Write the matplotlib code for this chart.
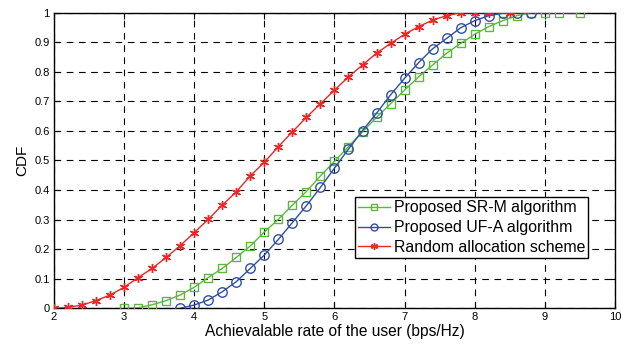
import matplotlib
matplotlib.use("Agg")
import matplotlib.pyplot as plt

plt.rcParams['font.family'] = ['Liberation Sans', 'DejaVu Sans']

x_srm = [3.0, 3.2, 3.4, 3.6, 3.8, 4.0, 4.2, 4.4, 4.6, 4.8, 5.0, 5.2, 5.4, 5.6, 5.8, 6.0,
         6.2, 6.4, 6.6, 6.8, 7.0, 7.2, 7.4, 7.6, 7.8, 8.0, 8.2, 8.4, 8.6, 8.8, 9.0, 9.2, 9.5]
y_srm = [0.0, 0.002, 0.012, 0.026, 0.045, 0.071, 0.104, 0.135, 0.172, 0.211, 0.258, 0.301,
         0.349, 0.395, 0.448, 0.497, 0.547, 0.597, 0.646, 0.692, 0.738, 0.783, 0.823, 0.863,
         0.896, 0.927, 0.953, 0.973, 0.99, 1.0, 1.0, 1.0, 1.0]

x_ufa = [3.8, 4.0, 4.2, 4.4, 4.6, 4.8, 5.0, 5.2, 5.4, 5.6, 5.8, 6.0, 6.2, 6.4, 6.6, 6.8,
         7.0, 7.2, 7.4, 7.6, 7.8, 8.0, 8.2, 8.4, 8.6, 8.8]
y_ufa = [0.0, 0.011, 0.028, 0.056, 0.09, 0.135, 0.18, 0.233, 0.29, 0.347, 0.409, 0.474,
         0.539, 0.601, 0.66, 0.722, 0.778, 0.831, 0.878, 0.913, 0.949, 0.973, 0.99, 0.998,
         1.0, 1.0]

x_rand = [2.0, 2.2, 2.4, 2.6, 2.8, 3.0, 3.2, 3.4, 3.6, 3.8, 4.0, 4.2, 4.4, 4.6, 4.8, 5.0,
          5.2, 5.4, 5.6, 5.8, 6.0, 6.2, 6.4, 6.6, 6.8, 7.0, 7.2, 7.4, 7.6, 7.8, 8.0, 8.2, 8.5]
y_rand = [0.0, 0.003, 0.011, 0.026, 0.045, 0.071, 0.104, 0.135, 0.172, 0.212, 0.256, 0.301,
          0.349, 0.394, 0.448, 0.494, 0.547, 0.597, 0.646, 0.692, 0.738, 0.783, 0.823, 0.863,
          0.896, 0.927, 0.953, 0.975, 0.99, 1.0, 1.0, 1.0, 1.0]

labels = ['Proposed SR-M algorithm', 'Proposed UF-A algorithm', 'Random allocation scheme']
x_ticks = [2, 3, 4, 5, 6, 7, 8, 9, 10]
y_ticks = [0, 0.1, 0.2, 0.3, 0.4, 0.5, 0.6, 0.7, 0.8, 0.9, 1]
y_tick_labels = ['0', '0.1', '0.2', '0.3', '0.4', '0.5', '0.6', '0.7', '0.8', '0.9', '1']

fig = plt.figure(figsize=(6.24, 3.45), dpi=100)
ax = fig.add_axes([0.0865, 0.1064, 0.899, 0.8568])

green = '#5cb83c'
blue = '#2f4fa0'
red = '#ee2525'

ax.plot(x_srm, y_srm, color=green, lw=1.0, marker='s', ms=6, mfc='none', mec=green, mew=1.0,
        label=labels[0], zorder=3)
ax.plot(x_ufa, y_ufa, color=blue, lw=1.0, marker='o', ms=6.8, mfc='none', mec=blue, mew=1.0,
        label=labels[1], zorder=4)
ax.plot(x_rand, y_rand, color=red, lw=1.0, marker=(6, 2, 0), ms=6.5, mec=red, mew=1.0,
        label=labels[2], zorder=5)

ax.set_xlim(2, 10)
ax.set_ylim(0, 1)
ax.set_xticks(x_ticks)
ax.set_xticklabels([str(t) for t in x_ticks])
ax.set_yticks(y_ticks)
ax.set_yticklabels(y_tick_labels)
ax.tick_params(direction='in', length=4, width=0.8, labelsize=8, top=True, right=True, pad=3)
ax.grid(True, color='black', linestyle=(0, (6, 5)), linewidth=0.8)
ax.set_axisbelow(True)
for s in ax.spines.values():
    s.set_linewidth(1.0)

ax.set_xlabel('Achievalable rate of the user (bps/Hz)', fontsize=11.2, labelpad=1)
ax.set_ylabel('CDF', fontsize=11, labelpad=4)

leg = ax.legend(loc='lower right', bbox_to_anchor=(0.9525, 0.17), fontsize=11.4,
                frameon=True, fancybox=False, edgecolor='black', framealpha=1,
                handlelength=2.0, handletextpad=0.25, borderpad=0.2, labelspacing=0.3,
                borderaxespad=0)
leg.get_frame().set_linewidth(1.0)
for h in leg.legend_handles:
    h.set_markersize(5)

fig.savefig('out.png', dpi=100)
